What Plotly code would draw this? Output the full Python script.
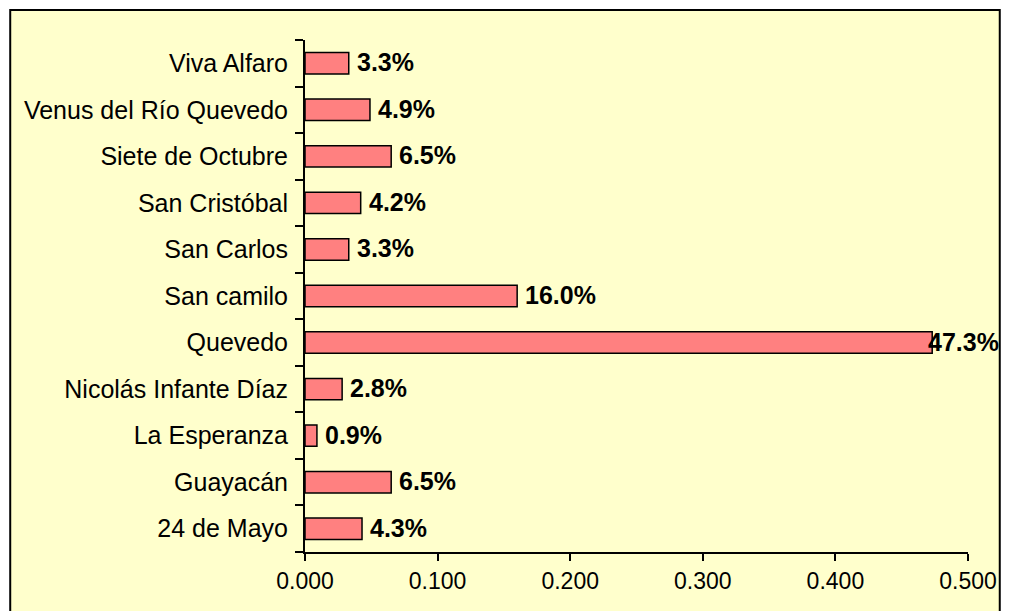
import plotly.graph_objects as go

categories = ["24 de Mayo", "Guayacán", "La Esperanza", "Nicolás Infante Díaz", "Quevedo",
              "San camilo", "San Carlos", "San Cristóbal", "Siete de Octubre",
              "Venus del Río Quevedo", "Viva Alfaro"]
values = [0.043, 0.065, 0.009, 0.028, 0.473, 0.160, 0.033, 0.042, 0.065, 0.049, 0.033]
x_ticks = [0.0, 0.1, 0.2, 0.3, 0.4, 0.5]
x_tick_labels = ["0.000", "0.100", "0.200", "0.300", "0.400", "0.500"]
label_shift = [6, 6, 6, 6, -6, 6, 6, 6, 6, 6, 6]

FONT = "Liberation Sans, Arial, sans-serif"

fig = go.Figure()
fig.add_trace(go.Bar(
    y=categories, x=values, orientation="h",
    marker=dict(color="#FF8080", line=dict(color="black", width=1.5)),
    hoverinfo="skip",
))

for c, v, s in zip(categories, values, label_shift):
    fig.add_annotation(x=v, y=c, xref="x", yref="y", text=f"<b>{v*100:.1f}%</b>",
                       showarrow=False, xanchor="left", xshift=s, yshift=1,
                       font=dict(family=FONT, size=25, color="black"))

W, H = 1009, 611
L, T = 305, 40
pw, ph = 668, 512
R, B = W - L - pw, H - T - ph
fig.add_shape(type="rect", xref="paper", yref="paper", layer="below",
              x0=(8 - L) / pw, x1=(1005 - L) / pw,
              y0=-0.3, y1=1 + (T - 10) / ph,
              fillcolor="#FFFFCC", line=dict(color="black", width=2))

fig.update_layout(
    width=W, height=H,
    margin=dict(l=L, r=R, t=T, b=B),
    paper_bgcolor="white", plot_bgcolor="rgba(0,0,0,0)",
    bargap=0.54, showlegend=False,
    font=dict(family=FONT, size=25, color="black"),
    xaxis=dict(range=[0, 0.5], tickvals=x_ticks, ticktext=x_tick_labels,
               showgrid=False, zeroline=False, showline=True, linecolor="black", linewidth=2,
               ticks="outside", ticklen=7, tickwidth=2, tickcolor="black",
               tickfont=dict(size=23)),
    yaxis=dict(type="category", categoryorder="array", categoryarray=categories,
               showgrid=False, zeroline=False, showline=True, linecolor="black", linewidth=2,
               ticks="outside", tickson="boundaries", ticklen=8, tickwidth=2, tickcolor="black",
               ticklabelstandoff=10, tickfont=dict(size=25)),
)

fig.write_html("out.html", config={"displayModeBar": False, "staticPlot": True},
               post_script="document.body.style.margin='0';document.body.style.overflow='hidden';")
